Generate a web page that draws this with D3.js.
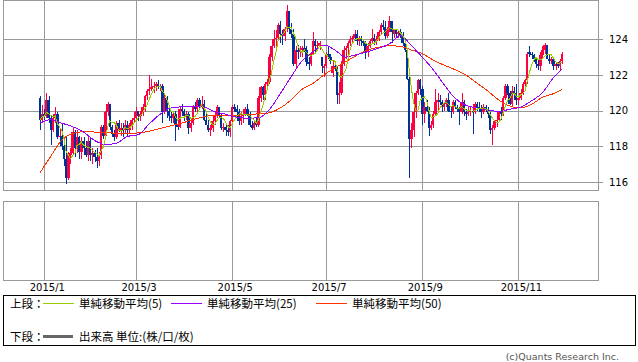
<!DOCTYPE html>
<html>
<head>
<meta charset="utf-8">
<script src="https://cdn.jsdelivr.net/npm/d3@7"></script>
<style>
  body { margin: 0; background: #fff; }
  svg { display: block; }
</style>
</head>
<body>
<div id="chart"></div>
<script>
// trading days (weekdays) 2014/12/30 - 2015/11/30
var dates = d3.timeDay.range(new Date(2014, 11, 30), new Date(2015, 11, 1))
  .filter(function(d) { return d.getDay() != 0 && d.getDay() != 6; });

// daily prices, one line per month (Dec 2014 ... Nov 2015)
var opens = [
  120.7,119.5,
  119.8,119.7,120.6,119.6,118.9,119.6,119.8,118.5,118.6,118.0,117.3,116.2,117.5,117.6,118.8,117.9,118.5,117.7,118.3,117.9,117.5,118.3,
  117.5,117.6,117.4,117.2,117.5,119.1,118.6,119.9,120.4,119.1,118.7,118.5,119.3,118.9,119.0,118.9,119.2,118.9,119.2,119.5,
  119.6,120.0,119.7,119.8,120.2,120.8,121.1,121.2,121.3,121.4,121.5,121.3,121.4,119.9,120.7,120.0,119.7,119.6,119.8,119.2,119.1,120.1,
  120.0,119.7,119.8,119.0,119.3,120.2,120.1,120.6,120.2,120.4,119.5,119.2,118.9,119.0,119.4,119.7,120.2,119.7,119.0,119.1,118.9,118.8,
  119.4,120.2,120.1,119.9,119.4,119.7,119.8,120.1,119.8,119.2,119.0,119.3,119.2,120.7,121.3,120.9,121.5,121.6,123.0,123.6,124.0,
  124.1,124.8,124.3,124.2,124.6,125.6,124.6,124.3,122.6,123.4,123.3,123.4,123.5,123.4,122.7,122.6,123.2,123.9,123.6,123.7,123.0,122.4,
  122.5,123.2,123.0,122.1,122.5,122.4,120.9,121.0,122.6,123.4,123.5,123.8,124.0,124.1,124.3,123.9,124.0,123.9,123.8,123.3,123.6,123.9,124.1,
  123.9,124.0,124.4,124.8,124.7,124.2,124.6,125.0,124.3,124.5,124.3,124.4,124.2,123.8,123.4,121.8,118.4,118.9,119.9,121.0,121.7,
  121.2,119.8,120.2,120.0,119.0,119.2,119.8,120.5,120.6,120.5,120.2,120.4,120.6,120.0,119.9,120.5,120.2,120.1,119.9,120.5,119.9,119.8,
  119.9,120.0,119.9,120.4,120.2,120.1,119.9,120.2,120.1,119.8,118.9,119.0,119.4,119.5,119.9,119.8,120.7,121.4,121.0,120.4,121.1,121.0,
  120.6,120.7,121.0,121.5,121.7,123.3,123.2,123.1,122.9,122.6,122.5,123.1,123.4,123.7,122.9,122.8,122.9,122.5,122.6,122.5,122.8
];
var highs = [
  120.8,120.3,
  120.1,121.0,120.8,119.7,119.8,120.2,119.9,119.0,119.3,118.1,118.6,117.7,117.9,119.0,118.9,118.9,118.6,118.5,118.5,118.3,118.6,118.5,
  117.9,117.8,117.9,117.7,119.2,119.2,120.0,120.5,120.4,119.2,118.9,119.4,119.5,119.3,119.3,119.5,119.4,119.3,119.6,119.9,
  120.2,120.0,120.0,120.4,120.9,121.2,122.0,121.8,121.6,121.6,121.7,121.5,121.5,120.9,120.8,120.1,119.9,120.0,120.0,119.4,120.2,120.4,
  120.1,120.0,119.9,119.4,120.3,120.5,120.7,120.7,120.8,120.6,119.9,119.5,119.2,119.6,119.9,120.3,120.2,119.8,119.3,119.3,119.2,119.5,
  120.3,120.4,120.3,120.1,119.9,120.1,120.2,120.4,119.9,119.4,119.5,119.6,120.8,121.4,121.4,121.6,121.8,123.2,123.8,124.5,124.5,
  124.9,125.0,124.5,124.7,125.9,125.6,124.9,124.6,123.6,123.7,123.6,123.6,124.0,123.6,123.0,123.3,124.4,124.0,123.9,123.9,123.0,122.6,
  123.3,123.6,123.2,122.8,122.7,122.5,121.6,122.8,123.6,123.6,123.9,124.2,124.2,124.5,124.5,124.2,124.2,124.0,123.9,123.8,124.0,124.6,124.3,
  124.2,124.5,124.9,125.1,125.0,124.7,125.3,125.0,124.6,124.6,124.5,124.6,124.4,123.9,123.5,122.0,119.3,120.1,121.1,121.8,121.8,
  121.4,120.5,120.6,120.2,119.4,120.0,121.2,121.0,120.9,120.6,120.5,120.7,121.0,120.2,120.6,120.6,120.3,120.2,121.0,120.6,120.1,120.2,
  120.2,120.4,120.5,120.5,120.5,120.3,120.4,120.3,120.2,119.9,119.2,119.5,119.6,120.0,120.2,120.8,121.5,121.5,121.1,121.4,121.3,121.5,
  120.8,121.2,121.6,121.8,123.3,123.6,123.3,123.2,123.0,122.9,123.3,123.6,123.8,123.7,123.2,123.0,123.0,122.7,122.7,122.9,123.3
];
var lows = [
  118.9,119.3,
  119.5,119.6,119.3,118.1,118.8,119.3,118.4,118.2,117.8,116.9,115.9,116.1,117.0,117.5,117.4,117.6,117.3,117.3,117.5,117.4,117.2,117.2,
  117.0,117.1,116.8,116.9,117.3,118.4,118.5,119.7,118.9,118.5,118.3,118.4,118.8,118.6,118.5,118.7,118.6,118.7,118.9,119.3,
  119.4,119.4,119.4,119.7,119.9,120.6,120.9,121.1,121.0,121.1,121.2,121.1,119.3,119.8,119.6,119.4,119.3,119.3,118.3,118.9,119.0,119.7,
  119.4,119.5,118.7,118.8,119.2,119.9,119.9,120.1,120.1,119.4,119.2,118.8,118.6,118.8,119.2,119.6,119.6,118.9,118.8,118.6,118.6,118.5,
  119.3,119.9,119.8,119.2,119.2,119.3,119.7,119.7,119.1,118.9,118.9,119.1,119.1,120.5,120.6,120.6,121.4,121.5,122.8,123.5,123.6,
  123.9,123.8,123.7,123.9,124.4,124.3,124.1,122.5,122.4,122.9,123.0,123.0,123.3,122.5,122.3,122.5,123.1,123.3,123.4,123.4,122.1,121.9,
  122.4,122.9,122.6,121.9,122.2,120.4,120.4,120.9,122.5,122.9,123.2,123.6,123.8,123.9,123.7,123.6,123.6,123.6,122.9,123.0,123.5,123.8,123.7,
  123.7,123.9,124.3,124.5,124.0,124.1,124.4,123.8,124.1,124.1,124.1,124.1,123.6,123.3,121.7,116.2,117.9,118.5,119.6,120.9,120.9,
  119.2,119.3,119.9,118.6,118.9,119.0,119.7,119.9,120.3,119.9,120.0,120.2,119.9,119.6,119.8,120.1,119.9,119.2,119.8,119.7,119.5,119.7,
  119.7,118.7,119.8,120.0,119.9,119.6,119.8,119.9,119.6,118.7,118.1,118.9,119.1,119.4,119.5,119.7,120.6,120.9,120.3,120.2,120.6,120.3,
  120.3,120.6,120.9,121.4,121.5,123.0,122.9,122.7,122.4,122.3,122.2,122.9,123.2,122.9,122.6,122.6,122.3,122.3,122.4,122.2,122.6
];
var closes = [
  119.5,119.8,
  119.7,120.6,119.6,118.9,119.6,119.8,118.5,118.6,118.0,117.3,116.2,117.5,117.6,118.8,117.9,118.5,117.7,118.3,117.9,117.5,118.3,117.5,
  117.6,117.4,117.2,117.5,119.1,118.6,119.9,120.4,119.1,118.7,118.5,119.3,118.9,119.0,118.9,119.2,118.9,119.2,119.5,119.6,
  120.0,119.7,119.8,120.2,120.8,121.1,121.2,121.3,121.4,121.5,121.3,121.4,119.9,120.7,120.0,119.7,119.6,119.8,119.2,119.1,120.1,120.0,
  119.7,119.8,119.0,119.3,120.2,120.1,120.6,120.2,120.4,119.5,119.2,118.9,119.0,119.4,119.7,120.2,119.7,119.0,119.1,118.9,118.8,119.4,
  120.2,120.1,119.9,119.4,119.7,119.8,120.1,119.8,119.2,119.0,119.3,119.2,120.7,121.3,120.9,121.5,121.6,123.0,123.6,124.0,124.1,
  124.8,124.3,124.2,124.6,125.6,124.6,124.3,122.6,123.4,123.3,123.4,123.5,123.4,122.7,122.6,123.2,123.9,123.6,123.7,123.8,122.5,122.5,
  123.2,123.0,122.8,122.5,122.4,120.9,121.0,122.6,123.4,123.5,123.8,124.0,124.1,124.3,123.9,124.0,123.9,123.8,123.3,123.6,123.9,124.1,123.9,
  124.0,124.4,124.8,124.7,124.2,124.6,125.0,124.4,124.5,124.3,124.4,124.2,123.8,123.4,121.8,118.4,118.9,119.9,121.0,121.7,121.2,
  119.8,120.2,120.0,119.0,119.2,119.8,120.5,120.6,120.5,120.2,120.4,120.6,120.0,119.9,120.5,120.2,120.1,119.9,120.5,119.9,119.8,119.9,
  120.0,119.9,120.4,120.2,120.1,119.9,120.2,120.1,119.8,118.9,119.0,119.4,119.5,119.9,119.8,120.7,121.4,121.0,120.4,121.1,121.0,120.6,
  120.7,121.0,121.5,121.7,123.2,123.2,123.1,122.9,122.6,122.5,123.1,123.4,123.7,122.9,122.8,122.9,122.5,122.6,122.5,122.8,123.2
];

// moving averages every 5 bars (last one at the final bar)
var maBars = d3.range(0, dates.length, 5).concat([dates.length - 1]);
var ma25 = [119.3,119.5,119.3,119.1,118.8,118.33,118.1,118.17,118.55,118.65,
            119.25,119.8,120.15,120.22,120.25,120.2,119.95,119.8,119.63,119.58,
            119.6,120.05,120.95,121.9,122.8,123.3,123.68,123.4,123.0,123.15,
            123.3,123.5,123.75,124.2,123.65,123.0,122.3,121.45,120.7,120.3,
            120.15,120.05,119.95,120.08,120.2,120.55,121.0,121.85,122.33];
var ma50 = [116.5,117.45,118.35,118.72,118.82,118.8,118.76,118.74,118.73,118.75,
            118.85,119.0,119.15,119.3,119.5,119.65,119.75,119.75,119.75,119.78,
            119.82,119.88,120.15,120.6,121.2,121.53,122.0,122.4,122.75,123.1,
            123.4,123.55,123.64,123.6,123.4,123.2,122.84,122.55,122.3,122.0,
            121.55,121.1,120.6,120.26,120.15,120.35,120.75,120.95,121.2];

var priceTicks = [116, 118, 120, 122, 124];

var legendItems = [
  {label: "単純移動平均(5)", color: "#99cc00", x: 43},
  {label: "単純移動平均(25)", color: "#9900ff", x: 171},
  {label: "単純移動平均(50)", color: "#ff3300", x: 316}
];

var upColor = "#ff0040", downColor = "#003399", gridColor = "#999";

var svg = d3.select("#chart")
  .append("svg")
    .attr("width", 638)
    .attr("height", 362);

var x = d3.scaleLinear().domain([0, dates.length - 1]).range([39.9, 562.1]);
var y = d3.scaleLinear().domain([115.552, 126.203]).range([190, 0]);

// first trading day of Jan, Mar, May ...
var monthTicks = d3.range(1, dates.length).filter(function(i) {
  return dates[i].getMonth() != dates[i-1].getMonth() && dates[i].getMonth() % 2 == 0;
});

// horizontal grid (runs out past the frame as tick marks)
svg.append("g")
  .attr("transform", "translate(603,0)")
  .call(d3.axisLeft(y).tickValues(priceTicks).tickSize(600).tickFormat(""))
  .call(function(g) { g.select(".domain").remove(); })
  .selectAll("line").attr("stroke", gridColor).attr("shape-rendering", "crispEdges");

// price labels
svg.append("g")
  .attr("transform", "translate(598,0)")
  .call(d3.axisRight(y).tickValues(priceTicks).tickSize(0).tickPadding(11))
  .call(function(g) { g.select(".domain").remove(); })
  .selectAll("text")
    .attr("font-family", "DejaVu Sans")
    .attr("font-size", 10)
    .attr("fill", "#000");

// vertical grid, upper panel
svg.append("g")
  .attr("transform", "translate(0,190)")
  .call(d3.axisBottom(x).tickValues(monthTicks).tickSize(-190).tickFormat(""))
  .call(function(g) { g.select(".domain").remove(); })
  .selectAll("line").attr("stroke", gridColor).attr("shape-rendering", "crispEdges");

// vertical grid, lower panel + date labels
var xAxis = svg.append("g")
  .attr("transform", "translate(0,280)")
  .call(d3.axisBottom(x).tickValues(monthTicks).tickSize(-79).tickPadding(4)
    .tickFormat(function(i) { return "2015/" + (dates[i].getMonth() + 1); }))
  .call(function(g) { g.select(".domain").remove(); });
xAxis.selectAll("line").attr("stroke", gridColor).attr("shape-rendering", "crispEdges");
xAxis.selectAll("text")
  .attr("dx", 2.5)
  .attr("font-family", "DejaVu Sans")
  .attr("font-size", 10)
  .attr("fill", "#000");

// panel frames
svg.append("rect").attr("x", 3.5).attr("y", 0.5).attr("width", 595).attr("height", 190)
  .attr("fill", "none").attr("stroke", gridColor);
svg.append("rect").attr("x", 3.5).attr("y", 201.5).attr("width", 595).attr("height", 79)
  .attr("fill", "none").attr("stroke", gridColor);

// candles
var candle = svg.append("g")
  .selectAll("g")
  .data(closes)
  .enter()
  .append("g")
    .attr("fill", function(d, i) { return d >= opens[i] ? upColor : downColor; })
    .attr("shape-rendering", "crispEdges");

candle.append("rect")
  .attr("x", function(d, i) { return Math.round(x(i)) - 0.5; })
  .attr("width", 1)
  .attr("y", function(d, i) { return y(highs[i]); })
  .attr("height", function(d, i) { return y(lows[i]) - y(highs[i]); });

candle.append("rect")
  .attr("x", function(d, i) { return x(i) - 1.25; })
  .attr("width", 2.5)
  .attr("y", function(d, i) { return y(Math.max(d, opens[i])); })
  .attr("height", function(d, i) { return Math.max(1, Math.abs(y(d) - y(opens[i]))); });

// moving averages
var ma5 = closes.map(function(d, i) {
  return d3.mean(closes.slice(Math.max(0, i - 4), i + 1));
});

var maLine = d3.line()
  .x(function(d) { return x(d[0]); })
  .y(function(d) { return y(d[1]); });

svg.append("path")
  .attr("d", maLine.curve(d3.curveMonotoneX)(maBars.map(function(b, k) { return [b, ma50[k]]; })))
  .attr("stroke", "#ff3300").attr("fill", "none").attr("stroke-width", 1)
  .attr("shape-rendering", "crispEdges");

svg.append("path")
  .attr("d", maLine.curve(d3.curveMonotoneX)(maBars.map(function(b, k) { return [b, ma25[k]]; })))
  .attr("stroke", "#9900ff").attr("fill", "none").attr("stroke-width", 1)
  .attr("shape-rendering", "crispEdges");

svg.append("path")
  .attr("d", maLine.curve(d3.curveLinear)(ma5.map(function(v, i) { return [i, v]; })))
  .attr("stroke", "#99cc00").attr("fill", "none").attr("stroke-width", 1)
  .attr("shape-rendering", "crispEdges");

// legend box
svg.append("rect").attr("x", 3.5).attr("y", 295.5).attr("width", 632).attr("height", 50)
  .attr("fill", "none").attr("stroke", "#000");

var legend = svg.append("g")
  .attr("font-family", "'Noto Sans CJK JP', sans-serif")
  .attr("font-size", 11.5)
  .attr("fill", "#000");

legend.append("text").attr("x", 10).attr("y", 307.5).text("上段：");
legend.append("text").attr("x", 10).attr("y", 340.5).text("下段：");

legend.selectAll(".ma-item")
  .data(legendItems)
  .enter()
  .append("line")
    .attr("x1", function(d) { return d.x; })
    .attr("x2", function(d) { return d.x + 31; })
    .attr("y1", 303.5).attr("y2", 303.5)
    .attr("stroke", function(d) { return d.color; });

legend.selectAll(".ma-label")
  .data(legendItems)
  .enter()
  .append("text")
    .attr("x", function(d) { return d.x + 36; })
    .attr("y", 307.5)
    .text(function(d) { return d.label; });

legend.append("line")
  .attr("x1", 43).attr("x2", 73).attr("y1", 336.5).attr("y2", 336.5)
  .attr("stroke", "#666").attr("stroke-width", 3);
legend.append("text").attr("x", 79).attr("y", 340.5).text("出来高 単位:(株/口/枚)");

svg.append("text")
  .attr("x", 619).attr("y", 360)
  .attr("text-anchor", "end")
  .attr("font-family", "DejaVu Sans")
  .attr("font-size", 9.5)
  .attr("fill", "#555")
  .text("(c)Quants Research Inc.");
</script>
</body>
</html>
